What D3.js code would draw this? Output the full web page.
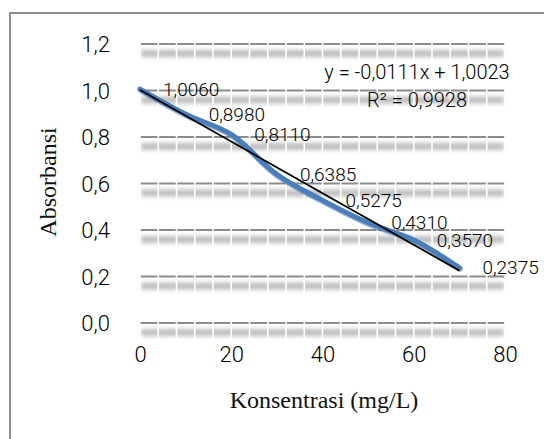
<!DOCTYPE html>
<html><head><meta charset="utf-8">
<script src="https://cdn.jsdelivr.net/npm/d3@7/dist/d3.min.js"></script>
<style>html,body{margin:0;padding:0;background:#fff;}svg{display:block;}</style>
</head><body>
<svg id="c" width="544" height="439"></svg>
<script>
const konsentrasi = [0, 10, 20, 30, 40, 50, 60, 70];
const absorbansi = [1.0060, 0.8980, 0.8110, 0.6385, 0.5275, 0.4310, 0.3570, 0.2375];
const dataLabels = ["1,0060", "0,8980", "0,8110", "0,6385", "0,5275", "0,4310", "0,3570", "0,2375"];
const yTicks = [0, 0.2, 0.4, 0.6, 0.8, 1.0, 1.2];
const yTickLabels = ["0,0", "0,2", "0,4", "0,6", "0,8", "1,0", "1,2"];
const xTicks = [0, 20, 40, 60, 80];
const xTickLabels = ["0", "20", "40", "60", "80"];
const trendSlope = -0.0111, trendIntercept = 1.0023;
const equationLines = ["y = -0,0111x + 1,0023", "R² = 0,9928"];
const xTitle = "Konsentrasi (mg/L)";
const yTitle = "Absorbansi";

const svg = d3.select("#c");
const x = d3.scaleLinear().domain([0, 80]).range([140, 505]);
const y = d3.scaleLinear().domain([0, 1.2]).range([323, 44]);

// frame
svg.append("path").attr("d", "M10,439 L10,13 L544,13").attr("fill", "none")
  .attr("stroke", "#8e8e8e").attr("stroke-width", 2);

const defs = svg.append("defs");
defs.append("filter").attr("id", "blur").attr("x", "-5%").attr("y", "-100%").attr("width", "110%").attr("height", "300%")
  .append("feGaussianBlur").attr("stdDeviation", 2.2);

const grid = svg.append("g");
grid.selectAll("rect.band").data(yTicks).join("rect")
  .attr("x", x(0) + 1).attr("width", x(80) - x(0) - 2)
  .attr("y", d => y(d) + 6).attr("height", 7)
  .attr("fill", "#bdbdbd").attr("filter", "url(#blur)");
grid.selectAll("line.g").data(yTicks).join("line")
  .attr("x1", x(0)).attr("x2", x(80))
  .attr("y1", d => y(d)).attr("y2", d => y(d))
  .attr("stroke", "#8c8c8c").attr("stroke-width", 2.2);
const minor = d3.range(0, 81, 4);
grid.selectAll("line.m").data(minor).join("line")
  .attr("x1", d => x(d)).attr("x2", d => x(d))
  .attr("y1", y(1.2) - 3).attr("y2", y(0) + 18)
  .attr("stroke", "#fff").attr("stroke-width", 1.6);

const sans = "Roboto";
// axes tick labels
const yAxis = d3.axisLeft(y).tickValues(yTicks).tickFormat((d, i) => yTickLabels[i]).tickSize(0).tickPadding(30);
svg.append("g").attr("transform", `translate(${x(0)},0)`).call(yAxis)
  .call(g => g.select(".domain").remove())
  .call(g => g.selectAll("text").attr("font-family", sans).attr("font-weight", 300).attr("font-size", 22).attr("fill", "#000").attr("dy", "0.35em"));
const xAxis = d3.axisBottom(x).tickValues(xTicks).tickFormat((d, i) => xTickLabels[i]).tickSize(0).tickPadding(23);
svg.append("g").attr("transform", `translate(0,${y(0)})`).call(xAxis)
  .call(g => g.select(".domain").remove())
  .call(g => g.selectAll("text").attr("font-family", sans).attr("font-weight", 300).attr("font-size", 22).attr("fill", "#000"));

// titles
svg.append("text").attr("x", 324).attr("y", 408).attr("text-anchor", "middle")
  .attr("font-family", "Liberation Serif").attr("font-size", 24).attr("fill", "#111").text(xTitle);
svg.append("text").attr("transform", "translate(56,182) rotate(-90)").attr("text-anchor", "middle")
  .attr("font-family", "Liberation Serif").attr("font-size", 24).attr("fill", "#111").text(yTitle);

// series
const pts = konsentrasi.map((k, i) => [k, absorbansi[i]]);
const line = d3.line().x(d => x(d[0])).y(d => y(d[1])).curve(d3.curveCatmullRom.alpha(0.5));
svg.append("path").datum(pts).attr("d", line).attr("fill", "none")
  .attr("stroke", "#3a6aa3").attr("stroke-width", 6).attr("stroke-linecap", "round").attr("opacity", 0.5)
  .attr("transform", "translate(0.5,1)");
svg.append("path").datum(pts).attr("d", line).attr("fill", "none")
  .attr("stroke", "#4a7ebb").attr("stroke-width", 5).attr("stroke-linecap", "round");

// trendline
const x0 = konsentrasi[0], x1 = konsentrasi[konsentrasi.length - 1];
svg.append("line").attr("x1", x(x0)).attr("y1", y(trendSlope * x0 + trendIntercept))
  .attr("x2", x(x1)).attr("y2", y(trendSlope * x1 + trendIntercept))
  .attr("stroke", "#000").attr("stroke-width", 1.8);

// data labels
svg.selectAll("text.dl").data(pts).join("text")
  .attr("x", d => x(d[0]) + 23).attr("y", d => y(d[1])).attr("dy", "0.35em")
  .attr("font-family", sans).attr("font-weight", 300).attr("font-size", 19).attr("fill", "#000")
  .text((d, i) => dataLabels[i]);

// equation
svg.selectAll("text.eq").data(equationLines).join("text")
  .attr("x", 417).attr("y", (d, i) => 72 + i * 28).attr("dy", "0.35em").attr("text-anchor", "middle")
  .attr("font-family", sans).attr("font-weight", 300).attr("font-size", 20).attr("fill", "#000").text(d => d);
</script>
</body></html>
